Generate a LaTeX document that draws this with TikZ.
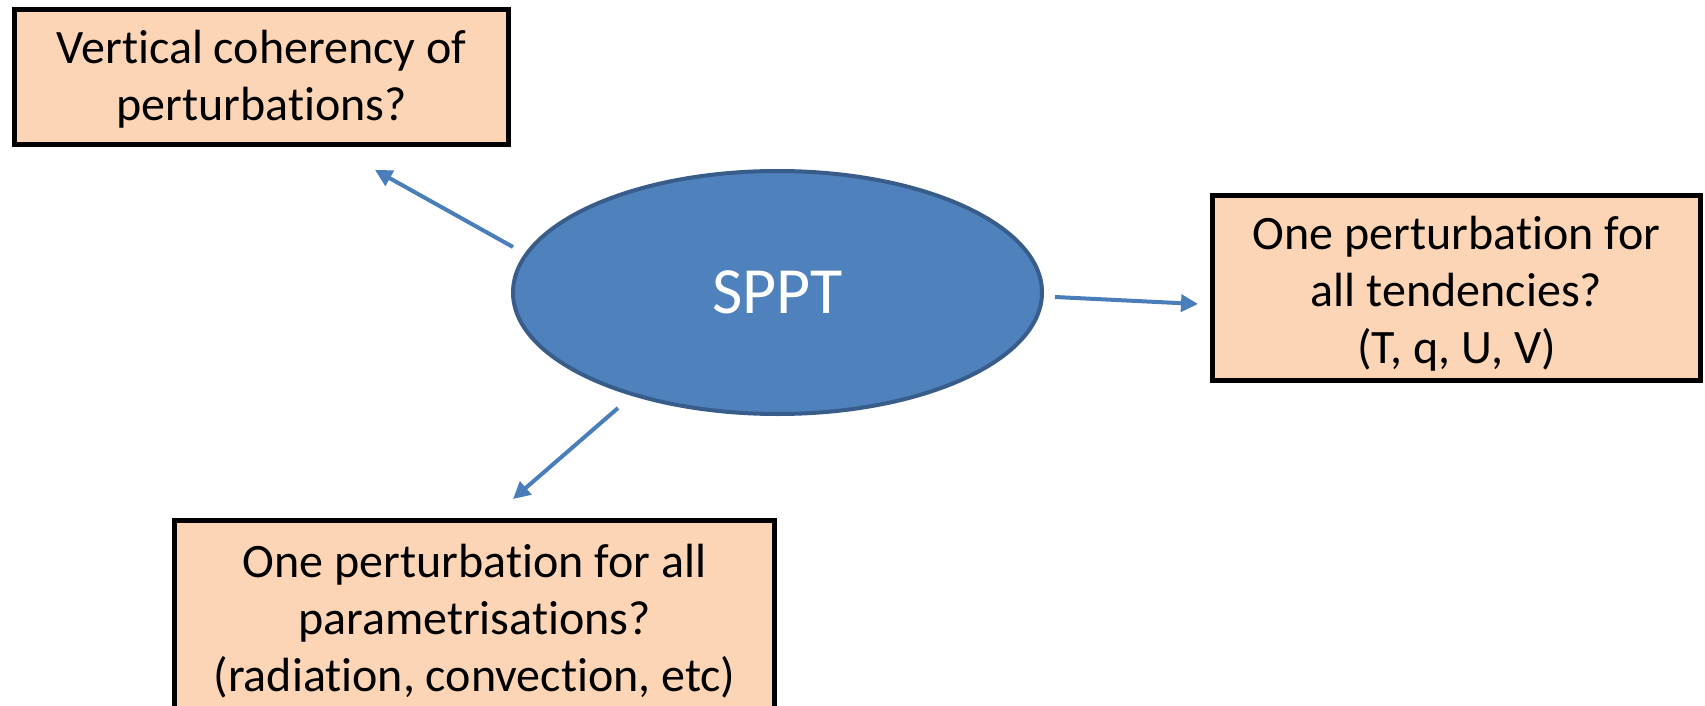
\documentclass[tikz,border=0pt]{standalone}
\usepackage{fontspec}
\setmainfont{Carlito}[Ligatures=NoCommon]
\usetikzlibrary{shapes.geometric,arrows.meta}

\definecolor{boxfill}{HTML}{FBD5B5}
\definecolor{ovalfill}{HTML}{4F81BD}
\definecolor{ovalline}{HTML}{385D8A}
\definecolor{arrowblue}{HTML}{4A7EBB}

\tikzset{
  qbox/.style={draw=black, line width=4.5pt, fill=boxfill, inner sep=0pt},
  qtext/.style={inner sep=0pt, align=center, anchor=base,
    font=\fontsize{48}{57}\selectfont},
  topic/.style={ellipse, draw=ovalline, line width=4pt, fill=ovalfill, inner sep=0pt,
    text=white, font=\fontsize{66}{70}\selectfont},
  link/.style={draw=arrowblue, line width=4pt, -{Triangle[length=17pt,width=17pt]}}
}

\begin{document}
\begin{tikzpicture}[x=1pt,y=-1pt]
  \clip (0,0) rectangle (1705,706);
  \fill[white] (0,0) rectangle (1705,706);

  % central topic
  \node[topic, minimum width=529pt, minimum height=243pt] (sppt) at (777.5,292.5) {SPPT};

  % question boxes
  \node[qbox, minimum width=494pt, minimum height=135pt] (vertbox) at (261.5,77) {};
  \node[qbox, minimum width=488pt, minimum height=185pt] (tendbox) at (1456.5,288) {};
  \node[qbox, minimum width=600pt, minimum height=210pt] (parambox) at (474.5,625.5) {};

  % box texts, placed by the baseline of their last line
  \node[qtext] (vert) at (261.5,121) {Vertical coherency of\\perturbations?};
  \node[qtext] (tend) at (1456.5,363) {One perturbation for\\all tendencies?\\(T, q, U, V)};
  \node[qtext] (param) at (474.5,691) {One perturbation for all\\parametrisations?\\(radiation, convection, etc)};

  % arrow end points
  \coordinate (v0) at (513,247);
  \coordinate (v1) at (375,170);
  \coordinate (t0) at (1055,297);
  \coordinate (t1) at (1198,304);
  \coordinate (p0) at (618,408);
  \coordinate (p1) at (513,499);

  \draw[link] (v0) -- (v1);
  \draw[link] (t0) -- (t1);
  \draw[link] (p0) -- (p1);
\end{tikzpicture}
\end{document}
